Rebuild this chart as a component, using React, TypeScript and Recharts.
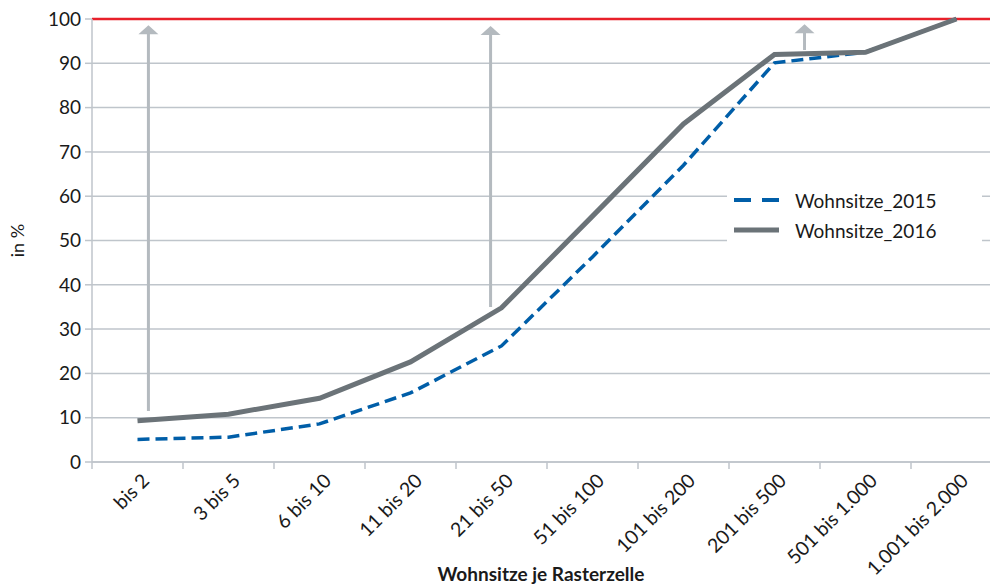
import React from 'react';
import { LineChart, Line, XAxis, YAxis, CartesianGrid, ReferenceLine } from 'recharts';

// Kategorien (Wohnsitze je Rasterzelle)
const categories = [
  'bis 2', '3 bis 5', '6 bis 10', '11 bis 20', '21 bis 50',
  '51 bis 100', '101 bis 200', '201 bis 500', '501 bis 1.000', '1.001 bis 2.000',
];

// kumulierte Anteile in %
const wohnsitze2015 = [5.1, 5.6, 8.6, 15.6, 26.2, 46.3, 67.0, 90.1, 92.5, 100];
const wohnsitze2016 = [9.3, 10.8, 14.4, 22.6, 34.8, 55.5, 76.3, 92.0, 92.5, 100];

const yTicks = [0, 10, 20, 30, 40, 50, 60, 70, 80, 90, 100];
const xBoundaries = [0, 1, 2, 3, 4, 5, 6, 7, 8, 9, 10];

// Pfeile: Position auf der Kategorieachse (0..10), von / bis in %
const arrows = [
  { x: 0.62, from: 11.5, to: 98.6 },
  { x: 4.38, from: 35, to: 98.4 },
  { x: 7.83, from: 93, to: 98.8 },
];

const data = categories.map((c, i) => ({
  x: i + 0.5,
  name: c,
  y2015: wohnsitze2015[i],
  y2016: wohnsitze2016[i],
}));

const FONT = 'Lato, "Open Sans", sans-serif';
const GRID = '#bfc5cb';

const XTick = (props: any) => {
  const { x, y, payload, width } = props;
  const v = payload.value;
  if (v >= categories.length) return <g />;
  const band = (width || 910) / 10;
  const cx = x + band / 2 + 13;
  const cy = y + 11;
  return (
    <text
      x={cx}
      y={cy}
      transform={`rotate(-45, ${cx}, ${cy})`}
      textAnchor="end"
      fontSize={19.5}
      fontFamily={FONT}
      fill="#1a1a1a"
    >
      {categories[v]}
    </text>
  );
};

const ArrowShape = (props: any) => {
  const { x1, y1, x2, y2 } = props;
  const x = (x1 + x2) / 2;
  const top = Math.min(y1, y2);
  const bottom = Math.max(y1, y2);
  return (
    <g>
      <line x1={x} y1={bottom} x2={x} y2={top + 8} stroke="#b4babf" strokeWidth={3} />
      <polygon points={`${x - 10},${top + 9} ${x + 10},${top + 9} ${x},${top}`} fill="#b4babf" />
    </g>
  );
};

const LegendBox = () => (
  <div
    style={{
      position: 'absolute', left: 727, top: 185, width: 255, height: 60,
      background: '#fff', fontFamily: FONT, fontSize: 19, color: '#1a1a1a',
    }}
  >
    <div style={{ display: 'flex', alignItems: 'center', height: 30 }}>
      <svg width={60} height={10} style={{ marginLeft: 7 }}>
        <line x1={0} y1={5} x2={45} y2={5} stroke="#005ea8" strokeWidth={4} strokeDasharray="17 11" />
      </svg>
      <span style={{ marginLeft: 1 }}>Wohnsitze_2015</span>
    </div>
    <div style={{ display: 'flex', alignItems: 'center', height: 30 }}>
      <svg width={60} height={10} style={{ marginLeft: 7 }}>
        <line x1={0} y1={5} x2={45} y2={5} stroke="#6b7378" strokeWidth={5} />
      </svg>
      <span style={{ marginLeft: 1 }}>Wohnsitze_2016</span>
    </div>
  </div>
);

export default function App() {
  return (
    <div style={{ position: 'absolute', left: 0, top: 0, width: 990, height: 587, overflow: 'hidden', background: '#fff' }}>
      <LineChart width={1002} height={587} data={data} margin={{ top: 19, right: 0, bottom: 0, left: 0 }}>
        <CartesianGrid vertical={false} stroke={GRID} strokeWidth={1.5} />
        <XAxis
          dataKey="x"
          type="number"
          domain={[0, 10]}
          ticks={xBoundaries}
          interval={0}
          height={125}
          tick={<XTick />}
          tickLine={{ stroke: GRID, strokeWidth: 1.5 }}
          tickSize={7}
          axisLine={{ stroke: GRID, strokeWidth: 1.5 }}
          label={{
            value: 'Wohnsitze je Rasterzelle',
            position: 'insideBottom',
            offset: 6,
            dx: -6,
            style: { fontFamily: FONT, fontSize: 19, fontWeight: 700, fill: '#1a1a1a' },
          }}
        />
        <YAxis
          type="number"
          domain={[0, 100]}
          ticks={yTicks}
          interval={0}
          width={92}
          tickSize={7}
          tickMargin={4}
          tickLine={{ stroke: GRID, strokeWidth: 1.5 }}
          axisLine={{ stroke: GRID, strokeWidth: 1.5 }}
          tick={{ fontFamily: FONT, fontSize: 19, fill: '#1a1a1a' }}
          label={(p: any) => {
            const vb = p.viewBox || { x: 0, y: 19, height: 443 };
            const lx = 24;
            const ly = vb.y + vb.height / 2;
            return (
              <text x={lx} y={ly} transform={`rotate(-90, ${lx}, ${ly})`} textAnchor="middle" fontFamily={FONT} fontSize={18} fill="#1a1a1a">
                in %
              </text>
            );
          }}
        />
        <ReferenceLine y={100} stroke="#e8202a" strokeWidth={2.5} />
        {arrows.map((a, i) => (
          <ReferenceLine
            key={i}
            segment={[{ x: a.x, y: a.from }, { x: a.x, y: a.to }]}
            shape={ArrowShape}
          />
        ))}
        <Line
          type="linear"
          dataKey="y2015"
          name="Wohnsitze_2015"
          stroke="#005ea8"
          strokeWidth={3.5}
          strokeDasharray="12 6"
          dot={false}
          isAnimationActive={false}
        />
        <Line
          type="linear"
          dataKey="y2016"
          name="Wohnsitze_2016"
          stroke="#6b7378"
          strokeWidth={5}
          dot={false}
          isAnimationActive={false}
        />
      </LineChart>
      <LegendBox />
    </div>
  );
}
